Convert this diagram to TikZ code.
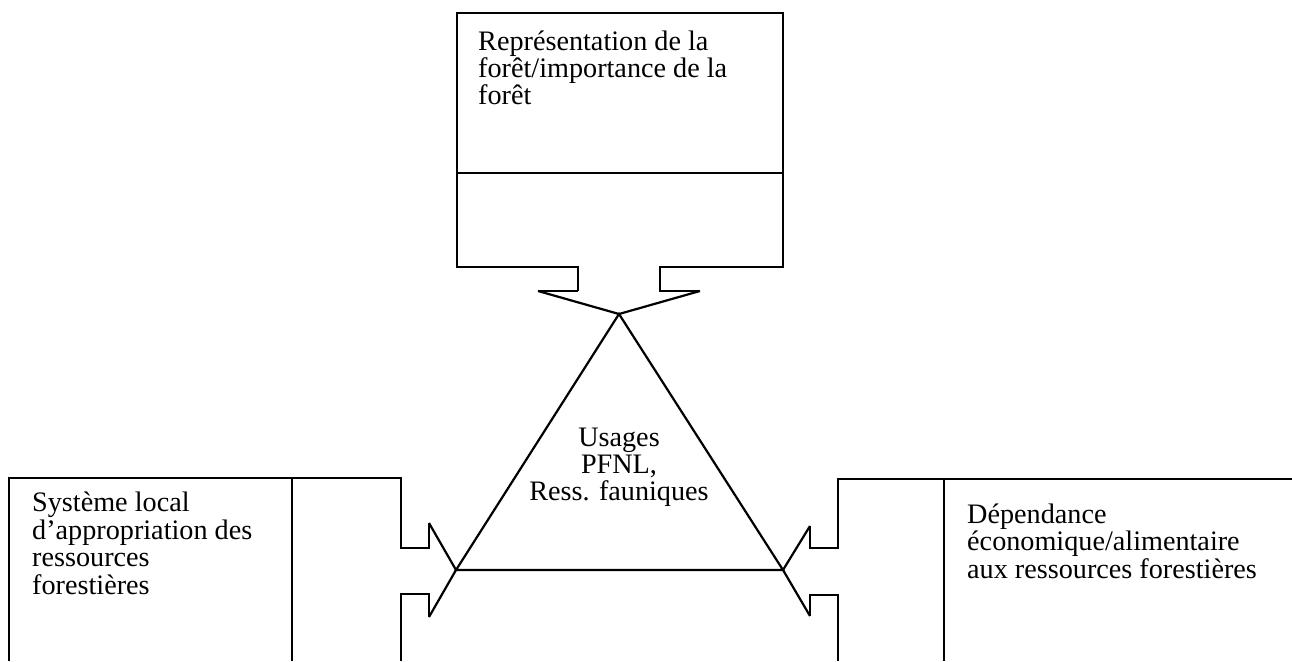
\documentclass[tikz,border=0pt]{standalone}
\usepackage{fontspec}
\setmainfont{Liberation Serif}
\begin{document}
\begin{tikzpicture}[x=1pt,y=-1pt,
  frame/.style={line width=2.2pt,line join=miter},
  thin frame/.style={line width=1.5pt},
  label/.style={inner sep=0pt,align=left,font=\fontsize{28.2}{27.4}\selectfont},
  clabel/.style={inner sep=0pt,align=center,font=\fontsize{28.2}{26.6}\selectfont}]
\useasboundingbox (0,0) rectangle (1292,661);

% triangle vertices
\coordinate (apex) at (619,314);
\coordinate (bl) at (456,570);
\coordinate (br) at (783,570);

% top box with its notch
\draw[frame] (578,291) -- (578,267) -- (457,267) -- (457,13) -- (783,13)
  -- (783,267) -- (660,267) -- (660,291) -- (700,291);
\draw[frame] (538,291) -- (578,291);
\draw[thin frame] (457,173) -- (783,173);
\draw[frame] (538,291) -- (apex) -- (700,291);

% left box with its notch
\draw[frame] (9,661) -- (9,478) -- (401,478) -- (401,548) -- (429,548) -- (429,523);
\draw[frame] (429,617) -- (429,594) -- (401,594) -- (401,661);
\draw[thin frame] (292,478) -- (292,661);
\draw[frame] (429,523) -- (bl) -- (429,617);

% right box with its notch
\draw[frame] (1292,479) -- (838,479) -- (838,548) -- (810,548) -- (810,526);
\draw[frame] (810,616) -- (810,595) -- (838,595) -- (838,661);
\draw[thin frame] (944,479) -- (944,661);
\draw[frame] (810,526) -- (br) -- (810,616);

% central triangle
\draw[frame] (apex) -- (bl) -- (br) -- cycle;

% texts (base anchor sits on the last line)
\node[label,anchor=base west] (top) at (478,104.8)
  {Représentation de la\\forêt/importance de la\\forêt};
\node[label,anchor=base west] (left) at (32,594)
  {Système local\\d’appropriation des\\ressources\\forestières};
\node[label,anchor=base west] (right) at (967,578)
  {Dépendance\\économique/alimentaire\\aux ressources forestières};
\node[clabel,anchor=base] (mid) at (619,500)
  {Usages\\PFNL,\\Ress. fauniques};
\end{tikzpicture}
\end{document}
